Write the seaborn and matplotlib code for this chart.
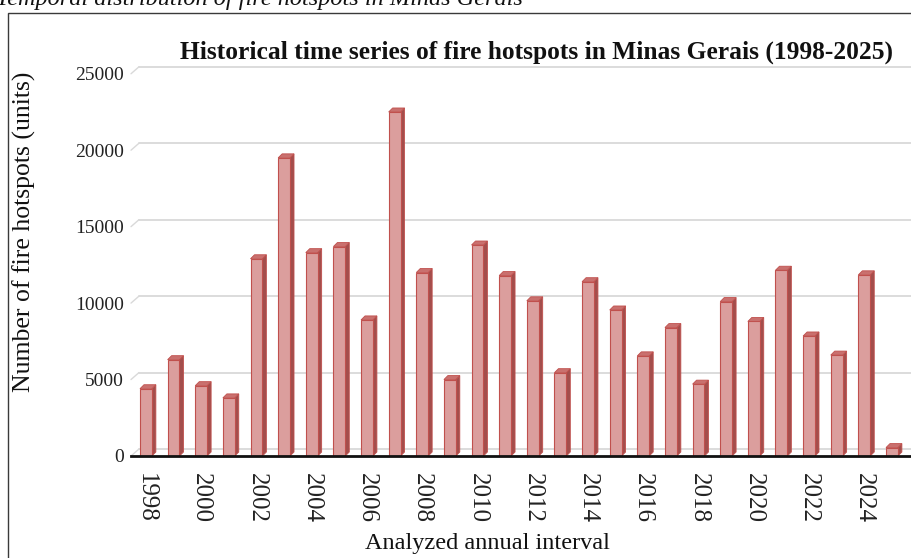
import numpy as np
import pandas as pd
import matplotlib
matplotlib.use("Agg")
import matplotlib.pyplot as plt
import seaborn as sns
from matplotlib.patches import Polygon, Rectangle

# data
years = [str(y) for y in range(1998, 2026)]
hotspots = [4400, 6300, 4600, 3800, 12900, 19500, 13300, 13700, 8900, 22500,
            12000, 5000, 13800, 11800, 10150, 5450, 11400, 9550, 6550, 8400,
            4700, 10100, 8800, 12150, 7850, 6600, 11850, 550]
y_ticks = [0, 5000, 10000, 15000, 20000, 25000]
y_tick_labels = ["0", "5000", "10000", "15000", "20000", "25000"]

FRONT = "#DB9E9D"
EDGE = "#C0504D"
SIDE = "#A34E4C"
TOP = "#C9706E"
GRID = "#D9D9D9"

df = pd.DataFrame({"Year": years, "Hotspots": hotspots})

sns.set_theme(style="white")
plt.rcParams["font.family"] = ["Liberation Serif", "DejaVu Serif"]

W, H = 911, 558
fig = plt.figure(figsize=(W / 100, H / 100), dpi=100)
ax_l, ax_r, ax_b, ax_t = 131, 911, 456, 60
ax = fig.add_axes([ax_l / W, (H - ax_b) / H, (ax_r - ax_l) / W, (ax_b - ax_t) / H])

sns.barplot(data=df, x="Year", y="Hotspots", color=FRONT, saturation=1,
            width=0.43, edgecolor=EDGE, linewidth=0.8, ax=ax, zorder=3)

xmin, xmax = -0.54, 27.69
ymax = 25900
ax.set_xlim(xmin, xmax)
ax.set_ylim(0, ymax)

# pixel -> data conversion for the 3d depth offset
px_x = (xmax - xmin) / (ax_r - ax_l)
px_y = ymax / (ax_b - ax_t)
dx, dy = 4 * px_x, 4 * px_y
gdx, gdy = 8 * px_x, 7 * px_y

# side and top faces of each column
for p in list(ax.patches):
    x0, w, h = p.get_x(), p.get_width(), p.get_height()
    side = Polygon([(x0 + w, 0), (x0 + w + dx, dy), (x0 + w + dx, h + dy), (x0 + w, h)],
                   closed=True, facecolor=SIDE, edgecolor=EDGE, lw=0.6, zorder=2.9)
    top = Polygon([(x0, h), (x0 + w, h), (x0 + w + dx, h + dy), (x0 + dx, h + dy)],
                  closed=True, facecolor=TOP, edgecolor=EDGE, lw=0.6, zorder=3.1,
                  clip_on=False)
    ax.add_patch(side)
    ax.add_patch(top)

# back-plane gridlines and slanted tick stubs
for v in y_ticks:
    ax.plot([xmin + gdx, xmax], [v + gdy, v + gdy], color=GRID, lw=1.3,
            zorder=1, clip_on=False)
    ax.plot([xmin, xmin + gdx], [v, v + gdy], color=GRID, lw=1.0,
            zorder=1, clip_on=False)

ax.set_yticks(y_ticks)
ax.set_yticklabels(y_tick_labels)
ax.set_xticks(range(len(years)))
ax.set_xticklabels([y if i % 2 == 0 else "" for i, y in enumerate(years)], rotation=-90)
ax.tick_params(axis="y", length=0, pad=5, labelsize=14, colors="#222222")
ax.tick_params(axis="x", length=0, pad=12, labelsize=18, colors="#222222")

for s in ["left", "top", "right"]:
    ax.spines[s].set_visible(False)
ax.spines["bottom"].set_color("#111111")
ax.spines["bottom"].set_linewidth(2)
ax.spines["bottom"].set_zorder(5)

ax.set_xlabel("Analyzed annual interval", fontsize=17.5, color="#111111")
ax.xaxis.set_label_coords((487 - ax_l) / (ax_r - ax_l), (ax_b - 533) / (ax_b - ax_t))
ax.set_ylabel("Number of fire hotspots (units)", fontsize=18.5, color="#111111")
ax.yaxis.set_label_coords((36 - ax_l) / (ax_r - ax_l), (ax_b - 232) / (ax_b - ax_t))

fig.text(536 / W, 1 - 52 / H,
         "Historical time series of fire hotspots in Minas Gerais (1998-2025)",
         ha="center", va="center", fontsize=18.4, fontweight="bold", color="#111111")

# caption cut off at the top of the image, as in the source
fig.text(-4 / W, 1 - 5 / H, "Temporal distribution of fire hotspots in Minas Gerais",
         ha="left", va="baseline", fontsize=17.5, fontstyle="italic", color="#111111")

fig.patches.append(Rectangle((8 / W, -0.05), 1.0, 1 - 13 / H + 0.05,
                             transform=fig.transFigure, fill=False,
                             edgecolor="#3a3a3a", lw=1))

fig.savefig("out.png", dpi=100)
